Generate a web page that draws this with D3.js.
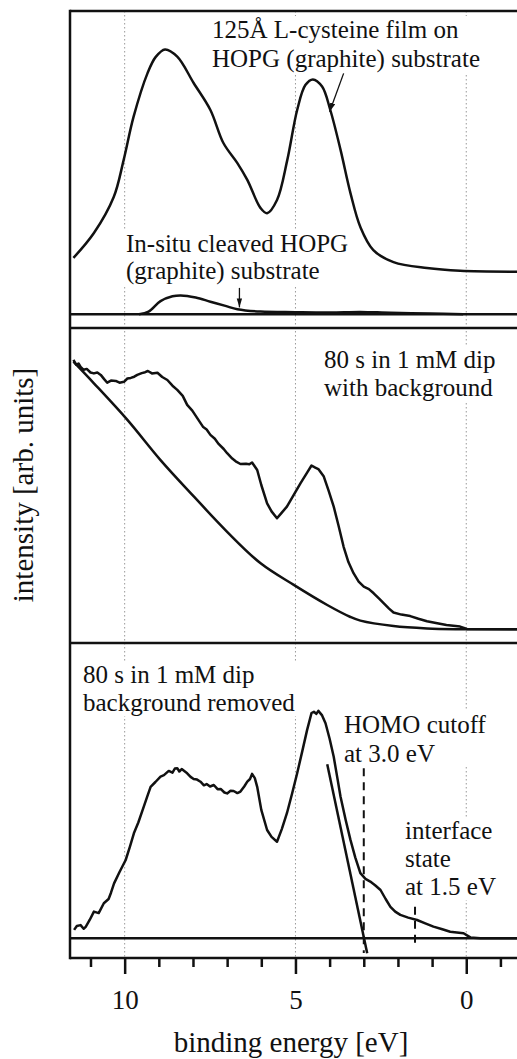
<!DOCTYPE html>
<html>
<head>
<meta charset="utf-8">
<script src="https://cdn.jsdelivr.net/npm/d3@7"></script>
<style>
  body { margin: 0; background: #fff; }
</style>
</head>
<body>
<div id="chart"></div>
<script>
var serif = "Liberation Serif";

// binding energy ticks
var majorTicks = [10, 5, 0];
var minorTicks = [11, 9, 8, 7, 6, 4, 3, 2, 1, -1];

// top panel: [binding energy, intensity]
var filmCurve = [
  [11.5, 18.8], [10.9, 27.1], [10.32, 39.1], [10.03, 51.4], [9.74, 65.8], [9.33, 80.4],
  [9.09, 85.8], [8.82, 88.3], [8.46, 85.9], [7.98, 77.1], [7.49, 68.1], [7.11, 57.1],
  [6.7, 50.4], [6.41, 44.8], [6.02, 35.4], [5.83, 33.7], [5.54, 38.1], [5.24, 51.4],
  [4.95, 68.1], [4.71, 76.4], [4.49, 78.3], [4.22, 75.9], [3.98, 68.1], [3.68, 54.8],
  [3.39, 40.4], [3.1, 29.1], [2.72, 21.4], [2.13, 17.4], [1.15, 15.4], [0.18, 14.5], [-1.49, 14.2]
];
var substrateCurve = [
  [9.58, 0], [9.3, 0.9], [8.95, 4.4], [8.6, 6.0], [8.36, 6.3], [7.92, 5.6], [7.49, 4.2],
  [7.05, 2.8], [6.7, 1.7], [6.02, 0.9], [5.0, 0.7], [3.98, 0.6], [3.1, 0.8], [2.22, 0.5],
  [1.05, 0.3], [0.09, 0.05]
];

// middle panel
var dipCurve = [
  [11.5, 89.8], [11.42, 88.2], [11.35, 88.6], [11.29, 87.5], [11.2, 86.5], [11.11, 86.8],
  [11.0, 85.6], [10.9, 85.3], [10.8, 85.6], [10.7, 84.8], [10.6, 83.4], [10.51, 82.2],
  [10.4, 82.9], [10.26, 82.8], [10.15, 82.2], [10.02, 82.5], [9.92, 83.6], [9.82, 83.8],
  [9.72, 84.2], [9.63, 84.8], [9.5, 85.4], [9.4, 85.7], [9.32, 86.1], [9.2, 85.3],
  [9.04, 85.5], [8.9, 84.1], [8.75, 83.1], [8.6, 81.2], [8.46, 79.8], [8.3, 77.8],
  [8.17, 74.8], [8.02, 72.9], [7.87, 70.3], [7.7, 67.4], [7.6, 66.6], [7.49, 64.8],
  [7.36, 63.5], [7.25, 61.8], [7.1, 60.1], [7.0, 58.7], [6.85, 56.9], [6.75, 56.0],
  [6.61, 55.1], [6.45, 55.2], [6.35, 55.0], [6.27, 55.6], [6.12, 53.1], [6.0, 48.1],
  [5.83, 42.0], [5.7, 39.3], [5.54, 37.0], [5.4, 38.9], [5.25, 40.9], [5.05, 44.8],
  [4.85, 48.7], [4.65, 52.4], [4.53, 54.6], [4.42, 53.9], [4.33, 53.4], [4.17, 50.9],
  [4.03, 46.2], [3.88, 40.9], [3.74, 34.6], [3.59, 27.5], [3.45, 22.4], [3.3, 18.7],
  [3.15, 15.9], [3.0, 14.2], [2.85, 13.4], [2.71, 12.0], [2.55, 10.2], [2.42, 8.7],
  [2.26, 6.9], [2.13, 5.6], [1.9, 4.9], [1.64, 4.4], [1.4, 3.5], [1.15, 2.7], [0.85, 2.0],
  [0.58, 1.4], [0.18, 0.9], [-0.02, 0.1], [-1.49, 0]
];
var backgroundCurve = [
  [11.5, 89.2], [10.9, 82.0], [9.92, 69.8], [8.95, 56.4], [7.97, 44.2], [7.0, 32.5],
  [6.02, 22.0], [5.05, 14.8], [4.07, 8.1], [3.39, 4.1], [3.1, 2.9], [2.13, 1.1],
  [1.15, 0.3], [0.3, 0.05], [-1.49, 0]
];

// bottom panel
var removedCurve = [
  [11.48, 2.8], [11.4, 4.1], [11.29, 4.4], [11.2, 3.2], [11.14, 3.8], [11.02, 6.2],
  [10.9, 8.9], [10.76, 8.4], [10.61, 11.7], [10.47, 13.1], [10.4, 15.2], [10.31, 18.3],
  [10.15, 22.1], [9.97, 26.1], [9.85, 30.4], [9.73, 35.0], [9.6, 38.6], [9.44, 43.9],
  [9.34, 47.2], [9.24, 50.5], [9.1, 52.1], [8.95, 53.9], [8.85, 54.4], [8.71, 55.8],
  [8.6, 55.2], [8.53, 56.6], [8.46, 56.7], [8.4, 55.6], [8.33, 56.4], [8.17, 55.0],
  [8.07, 53.8], [7.98, 53.1], [7.88, 52.9], [7.78, 52.2], [7.68, 51.0], [7.6, 51.4],
  [7.5, 50.6], [7.39, 51.1], [7.28, 49.7], [7.19, 49.8], [7.08, 48.6], [7.0, 48.3],
  [6.9, 49.2], [6.81, 49.1], [6.7, 48.4], [6.61, 48.9], [6.5, 50.6], [6.41, 52.2],
  [6.33, 53.1], [6.27, 54.8], [6.19, 53.4], [6.12, 50.5], [6.0, 42.8], [5.83, 36.1],
  [5.7, 33.8], [5.54, 32.2], [5.4, 36.4], [5.25, 41.7], [5.1, 48.2], [4.95, 55.0],
  [4.8, 62.4], [4.66, 69.4], [4.53, 75.1], [4.46, 75.5], [4.39, 74.8], [4.33, 75.8],
  [4.22, 74.3], [4.12, 71.7], [4.0, 66.5], [3.88, 60.5], [3.78, 53.9], [3.68, 47.2],
  [3.53, 39.4], [3.39, 32.8], [3.25, 27.0], [3.1, 21.7], [2.95, 19.8], [2.81, 18.9],
  [2.66, 17.6], [2.51, 16.1], [2.36, 13.1], [2.22, 10.5], [2.08, 8.9], [1.93, 7.8],
  [1.7, 6.9], [1.44, 6.1], [1.2, 5.0], [0.96, 3.9], [0.7, 3.0], [0.47, 2.2],
  [0.08, 1.7], [-0.12, 0.3], [-0.41, 0], [-1.49, 0]
];
var fitLine = [[4.07, 58], [2.9, -5]];
var cutoffMarks = [[3.0, 56.7, -4.9], [1.5, 10.5, -1.7]];

// layout
var W = 517, H = 1059;
var left = 70, right = 517.5;
var frameTop = 11, sep1 = 328, sep2 = 643, frameBottom = 958;

var svg = d3.select("#chart").append("svg")
  .attr("width", W)
  .attr("height", H);

var x = d3.scaleLinear().domain([11.6, -1.5]).range([left, right]);

// one y scale per panel, zero at its baseline
var yTop = d3.scaleLinear().domain([0, 100]).range([314.3, 14.3]);
var yMid = d3.scaleLinear().domain([0, 100]).range([629.3, 329.3]);
var yBot = d3.scaleLinear().domain([0, 100]).range([938.3, 638.3]);

// dotted grid
svg.append("g").selectAll("line")
  .data(majorTicks)
  .enter()
  .append("line")
  .attr("x1", function (d) { return x(d); })
  .attr("x2", function (d) { return x(d); })
  .attr("y1", frameTop)
  .attr("y2", frameBottom)
  .attr("stroke", "#999")
  .attr("stroke-width", 1)
  .attr("stroke-dasharray", "1.5,2.5");

// text blocks with a white box behind them
function note(lines, x0, y0, lh) {
  var g = svg.append("g");
  var t = g.append("text")
    .attr("font-family", serif)
    .attr("font-size", 25)
    .attr("fill", "#111");
  lines.forEach(function (s, i) {
    t.append("tspan").attr("x", x0).attr("y", y0 + i * lh).text(s);
  });
  var b = t.node().getBBox();
  g.insert("rect", "text")
    .attr("x", b.x - 2).attr("y", b.y)
    .attr("width", b.width + 4).attr("height", b.height)
    .attr("fill", "#fff");
}

note(["125Å L-cysteine film on", "HOPG (graphite) substrate"], 212, 38, 29);
note(["In-situ cleaved HOPG", "(graphite) substrate"], 126, 252, 27);
note(["80 s in 1 mM dip", "with background"], 324, 368, 28);
note(["80 s in 1 mM dip", "background removed"], 83, 683, 28);
note(["HOMO cutoff", "at 3.0 eV"], 344, 733, 28.5);
note(["interface", "state", "at 1.5 eV"], 405, 839, 28);

// curves
function draw(data, y, curve) {
  svg.append("path")
    .datum(data)
    .attr("fill", "none")
    .attr("stroke", "#111")
    .attr("stroke-width", 2.5)
    .attr("stroke-linejoin", "round")
    .attr("d", d3.line()
      .x(function (d) { return x(d[0]); })
      .y(function (d) { return y(d[1]); })
      .curve(curve));
}

draw(filmCurve, yTop, d3.curveCatmullRom);
draw(substrateCurve, yTop, d3.curveCatmullRom);
draw(dipCurve, yMid, d3.curveLinear);
draw(backgroundCurve, yMid, d3.curveCatmullRom);
draw(removedCurve, yBot, d3.curveLinear);
draw(fitLine, yBot, d3.curveLinear);

// dashed cutoff marks
svg.append("g").selectAll("line")
  .data(cutoffMarks)
  .enter()
  .append("line")
  .attr("x1", function (d) { return x(d[0]); })
  .attr("x2", function (d) { return x(d[0]); })
  .attr("y1", function (d) { return yBot(d[1]); })
  .attr("y2", function (d) { return yBot(d[2]); })
  .attr("stroke", "#111")
  .attr("stroke-width", 2)
  .attr("stroke-dasharray", "8,6");

// frame, panel borders and baselines
var hLines = [frameTop, sep1, sep2, frameBottom, yTop(0), yBot(0)];
svg.append("g").selectAll("line")
  .data(hLines)
  .enter()
  .append("line")
  .attr("x1", left)
  .attr("x2", W + 5)
  .attr("y1", function (d) { return d; })
  .attr("y2", function (d) { return d; })
  .attr("stroke", "#111")
  .attr("stroke-width", 2.5);

svg.append("line")
  .attr("x1", left).attr("x2", left)
  .attr("y1", frameTop - 1.2).attr("y2", frameBottom + 1.2)
  .attr("stroke", "#111")
  .attr("stroke-width", 2.5);

// arrows
svg.append("defs").append("marker")
  .attr("id", "head")
  .attr("viewBox", "0 0 10 6")
  .attr("refX", 10).attr("refY", 3)
  .attr("markerWidth", 9).attr("markerHeight", 6)
  .attr("markerUnits", "userSpaceOnUse")
  .attr("orient", "auto")
  .append("path")
  .attr("d", "M0,0 L10,3 L0,6 Z")
  .attr("fill", "#111");

svg.append("line")
  .attr("x1", x(3.59)).attr("y1", yTop(80.3))
  .attr("x2", x(4.0)).attr("y2", yTop(67.5))
  .attr("stroke", "#111").attr("stroke-width", 1.3)
  .attr("marker-end", "url(#head)");

svg.append("line")
  .attr("x1", x(6.64)).attr("y1", yTop(8.8))
  .attr("x2", x(6.64)).attr("y2", yTop(2.3))
  .attr("stroke", "#111").attr("stroke-width", 1.3)
  .attr("marker-end", "url(#head)");

// x axis: minor and major ticks
var minorAxis = svg.append("g")
  .attr("transform", "translate(0," + frameBottom + ")")
  .call(d3.axisBottom(x).tickValues(minorTicks).tickSize(9).tickFormat(""));
minorAxis.select(".domain").remove();
minorAxis.selectAll("line").attr("stroke", "#111").attr("stroke-width", 2.5);

var majorAxis = svg.append("g")
  .attr("transform", "translate(0," + frameBottom + ")")
  .call(d3.axisBottom(x).tickValues(majorTicks).tickSize(16).tickPadding(16)
    .tickFormat(d3.format("d")));
majorAxis.select(".domain").remove();
majorAxis.attr("font-family", serif).attr("font-size", 27);
majorAxis.selectAll("line").attr("stroke", "#111").attr("stroke-width", 2.5);
majorAxis.selectAll("text")
  .attr("font-family", serif)
  .attr("font-size", 27)
  .attr("fill", "#111");

// axis titles
svg.append("text")
  .attr("x", 291)
  .attr("y", 1052)
  .attr("text-anchor", "middle")
  .attr("font-family", serif)
  .attr("font-size", 29)
  .attr("fill", "#111")
  .text("binding energy [eV]");

svg.append("text")
  .attr("transform", "translate(33,485) rotate(-90)")
  .attr("text-anchor", "middle")
  .attr("font-family", serif)
  .attr("font-size", 29)
  .attr("fill", "#111")
  .text("intensity [arb. units]");
</script>
</body>
</html>
